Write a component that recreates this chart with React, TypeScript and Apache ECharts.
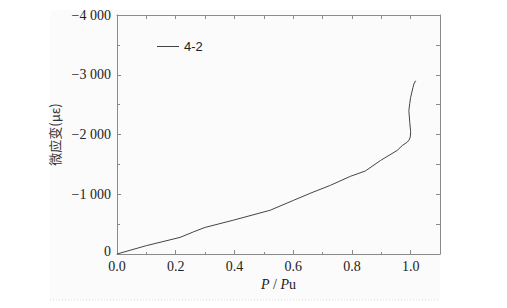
import React, { useEffect, useRef } from "react";
import * as echarts from "echarts";

const seriesName = "4-2";
const loadRatio = [0, 0.1, 0.215, 0.26, 0.3, 0.397, 0.522, 0.602, 0.66, 0.727, 0.795, 0.846, 0.898, 0.954, 0.972, 0.985, 0.994, 0.999, 1.0, 0.997, 0.994, 0.997, 1.0, 1.008, 1.011, 1.017];
const microStrain = [0, -140, -278, -370, -445, -567, -733, -900, -1020, -1150, -1300, -1390, -1567, -1733, -1817, -1860, -1900, -1960, -2050, -2200, -2400, -2520, -2622, -2788, -2845, -2900];
const yTicks = [-4000, -3000, -2000, -1000, 0];

const fmtY = (v: number) => {
  if (v === 0) return "{z|0}";
  const a = Math.abs(v);
  const s = a >= 1000 ? Math.floor(a / 1000) + " " + String(a % 1000).padStart(3, "0") : String(a);
  return "\u2212" + s;
};

export default function App() {
  const ref = useRef<HTMLDivElement>(null);
  useEffect(() => {
    const chart = echarts.init(ref.current!, null, { renderer: "svg" });
    const axisColor = "#8a8a8a";
    const serif = "'Liberation Serif', 'DejaVu Serif', serif";
    const data = loadRatio.map((x, i) => [x, microStrain[i]]);
    chart.setOption({
      animation: false,
      backgroundColor: "#ffffff",
      graphic: [
        { type: "rect", shape: { x: 50, y: 10, width: 390, height: 290 }, style: { fill: "#fbfbfb" }, z: -10 },
        { type: "line", shape: { x1: 50, y1: 300, x2: 440, y2: 300 }, style: { stroke: "#dddddd", lineWidth: 1, lineDash: [1, 2] }, z: -9 },
      ],
      grid: { left: 117, top: 15, right: 67, bottom: 54, show: false },
      legend: {
        left: 152, top: 35, icon: "rect", itemWidth: 22, itemHeight: 1, itemGap: 6,
        textStyle: { fontFamily: "'Liberation Sans', Arial, sans-serif", fontSize: 13, color: "#222" },
        data: [seriesName],
      },
      xAxis: [
        {
          type: "value", min: 0, max: 1.1, interval: 0.2, position: "bottom",
          name: "{i|P} / {i|P}u", nameLocation: "middle", nameGap: 20,
          nameTextStyle: { fontFamily: serif, fontSize: 14, color: "#222", rich: { i: { fontStyle: "italic", fontFamily: serif, fontSize: 14, color: "#222" } } },
          axisLine: { show: true, onZero: false, lineStyle: { color: axisColor, width: 1 } },
          axisTick: { show: true, inside: true, length: 4, lineStyle: { color: axisColor } },
          minorTick: { show: true, splitNumber: 2, length: 2, lineStyle: { color: axisColor } },
          splitLine: { show: false },
          axisLabel: { fontFamily: serif, fontSize: 14, color: "#222", margin: 5, showMaxLabel: false, formatter: (v: number) => (Math.abs(v * 5 - Math.round(v * 5)) < 1e-6 && v <= 1.0001 ? v.toFixed(1) : "") },
        },
        {
          type: "value", min: 0, max: 1.1, interval: 0.1, position: "top",
          axisLine: { show: true, onZero: false, lineStyle: { color: axisColor, width: 1 } },
          axisTick: { show: true, inside: true, length: 4, lineStyle: { color: axisColor } },
          axisLabel: { show: false }, splitLine: { show: false },
        },
      ],
      yAxis: [
        {
          type: "value", min: -4000, max: 0, interval: 1000, inverse: true, position: "left",
          name: "微应变(με)", nameLocation: "middle", nameGap: 53, nameRotate: 90,
          nameTextStyle: { fontFamily: "'Noto Sans CJK SC', sans-serif", fontSize: 13, color: "#333" },
          axisLine: { show: true, onZero: false, lineStyle: { color: axisColor, width: 1 } },
          axisTick: { show: true, inside: true, length: 4, lineStyle: { color: axisColor } },
          minorTick: { show: true, splitNumber: 2, length: 3, lineStyle: { color: axisColor } },
          splitLine: { show: false },
          axisLabel: {
            fontFamily: serif, fontSize: 14, color: "#222", margin: 6,
            formatter: (v: number) => (yTicks.includes(v) ? fmtY(v) : ""),
            rich: { z: { fontFamily: serif, fontSize: 14, color: "#222", padding: [0, 0, 6, 0] } },
          },
        },
        {
          type: "value", min: -4000, max: 0, interval: 500, inverse: true, position: "right",
          axisLine: { show: true, onZero: false, lineStyle: { color: axisColor, width: 1 } },
          axisTick: { show: true, inside: true, length: 4, lineStyle: { color: axisColor } },
          axisLabel: { show: false }, splitLine: { show: false },
        },
      ],
      series: [
        {
          name: seriesName, type: "line", xAxisIndex: 0, yAxisIndex: 0, data,
          showSymbol: false, symbol: "none", smooth: false,
          lineStyle: { color: "#444", width: 1 }, itemStyle: { color: "#444" },
        },
      ],
    });
    return () => chart.dispose();
  }, []);
  return <div ref={ref} style={{ position: "fixed", left: 0, top: 0, width: 507, height: 308 }} />;
}
